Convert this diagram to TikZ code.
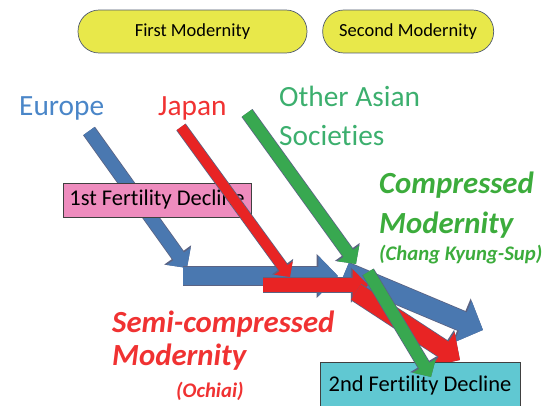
\documentclass[tikz,border=0pt]{standalone}
\usepackage{fontspec}
\setmainfont{Carlito}[Ligatures=NoCommon]
\usepackage{xcolor}
\usetikzlibrary{arrows.meta,positioning}

\definecolor{pillyellow}{RGB}{232,232,74}
\definecolor{pillline}{RGB}{80,90,110}
\definecolor{eublue}{RGB}{74,120,176}
\definecolor{jared}{RGB}{232,36,36}
\definecolor{asgreen}{RGB}{56,168,80}
\definecolor{eutext}{RGB}{74,134,200}
\definecolor{jatext}{RGB}{240,50,50}
\definecolor{astext}{RGB}{60,175,110}
\definecolor{comptext}{RGB}{60,172,60}
\definecolor{pinkbox}{RGB}{238,140,190}
\definecolor{cyanbox}{RGB}{96,200,210}
\definecolor{edge}{RGB}{50,60,100}

\begin{document}
\begin{tikzpicture}[
  x=0.02cm, y=-0.02cm,
  pill/.style={draw=pillline, fill=pillyellow, rounded corners=12pt,
               minimum height=0.86cm, font=\fontsize{10.5}{12}\selectfont},
  fbox/.style={draw=black!75, inner sep=2pt, font=\fontsize{12.8}{14}\selectfont},
  lbl/.style={anchor=base west, align=left, font=\fontsize{16.7}{22}\selectfont},
  bigit/.style={anchor=base west, align=left},
  smallit/.style={anchor=base west, font=\fontsize{11.8}{14}\selectfont\bfseries\itshape},
  blk/.style={line width=#1, -{Triangle[width=0pt 2.2, length=0pt 1.1]},
              preaction={draw=edge!80, line width=#1+0.9pt}}
]
\useasboundingbox (0,0) rectangle (546,405);

% modernity bands
\node[pill, minimum width=4.58cm] (first) at (192.5,31.5) {First Modernity};
\node[pill, minimum width=3.42cm, right=0.3cm of first] (second) {Second Modernity};

% societies
\node[lbl, text=eutext] (europe) at (13,115) {Europe};
\node[lbl, text=jatext] (japan) at (152,115) {Japan};
\node[lbl, text=astext] (asia) at (273,145) {Other Asian\\Societies};

% path points
\coordinate (eu0) at (89,131);
\coordinate (eu1) at (187,268);
\coordinate (eu2) at (183,276);
\coordinate (eu3) at (338,276);
\coordinate (eu4) at (345,272);
\coordinate (eu5) at (483,330);
\coordinate (ja0) at (181,127);
\coordinate (ja1) at (290,277);
\coordinate (ja2) at (263,285);
\coordinate (ja3) at (368,285);
\coordinate (ja4) at (356,292);
\coordinate (ja5) at (460,360);
\coordinate (as0) at (247,113);
\coordinate (as1) at (356,264);
\coordinate (as2) at (368,272);
\coordinate (as3) at (431,377);

% Europe
\draw[blk=7.4pt, eublue] (eu0) -- (eu1);
\node[fbox, fill=pinkbox, minimum width=3.76cm, minimum height=0.68cm] (first decl)
  at (157,200) {1st Fertility Decline};
\draw[blk=10.2pt, eublue] (eu2) -- (eu3);
\draw[blk=11.3pt, eublue] (eu4) -- (eu5);

% Japan
\draw[blk=5.7pt, jared] (ja0) -- (ja1);
\draw[blk=8pt, jared] (ja2) -- (ja3);
\draw[blk=10.2pt, jared] (ja4) -- (ja5);

\node[fbox, fill=cyanbox, minimum width=4cm, minimum height=0.92cm] (second decl)
  at (420,385) {2nd Fertility Decline};

% other Asian societies
\draw[blk=6.8pt, asgreen] (as0) -- (as1);
\draw[blk=6.8pt, asgreen] (as2) -- (as3);

% kinds of modernity
\node[bigit, text=comptext, font=\fontsize{17.5}{22.7}\selectfont\bfseries\itshape]
  (compressed) at (373,233) {Compressed\\Modernity};
\node[smallit, text=comptext] (chang) at (373,260) {(Chang Kyung-Sup)};
\node[bigit, text=jatext, font=\fontsize{17.5}{18.7}\selectfont\bfseries\itshape]
  (semi) at (106,365) {Semi-compressed\\Modernity};
\node[smallit, text=jatext] (ochiai) at (170,397) {(Ochiai)};
\end{tikzpicture}
\end{document}
